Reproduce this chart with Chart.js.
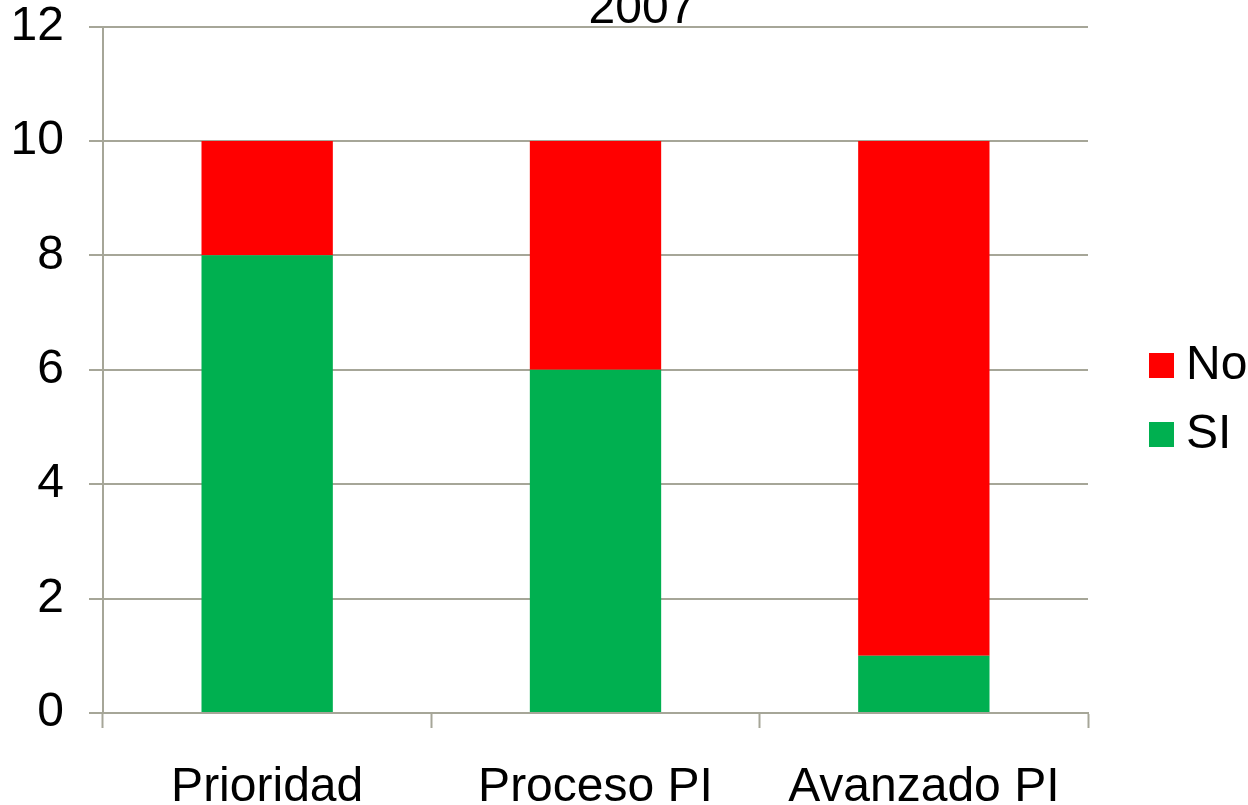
<!DOCTYPE html>
<html>
<head>
<meta charset="utf-8">
<script src="https://cdn.jsdelivr.net/npm/chart.js@4/dist/chart.umd.min.js"></script>
<style>
  body { margin: 0; background: #fff; }
  #wrap { width: 1248px; height: 805px; }
</style>
</head>
<body>
<div id="wrap"><canvas id="myBarChart" width="1248" height="805"></canvas></div>
<script>
// data
const categories = ['Prioridad', 'Proceso PI', 'Avanzado PI'];
const siValues = [8, 6, 1];
const noValues = [2, 4, 9];
const yTicks = [0, 2, 4, 6, 8, 10, 12];
const chartTitle = '2007';

const gridColor = '#A6A698';
const fontFamily = '"Liberation Sans", Arial, sans-serif';

// title drawn over the top edge, cut off like in the original
const titlePlugin = {
  id: 'topTitle',
  afterDraw(chart) {
    const c = chart.ctx;
    c.save();
    c.font = '48px ' + fontFamily;
    c.fillStyle = '#000';
    c.textAlign = 'center';
    c.textBaseline = 'alphabetic';
    c.fillText(chartTitle, 642, 23);
    c.restore();
  }
};

// legend on the right, top series first
const legendPlugin = {
  id: 'sideLegend',
  afterDraw(chart) {
    const c = chart.ctx;
    const sets = chart.data.datasets.slice().reverse();
    c.save();
    c.font = '48px ' + fontFamily;
    c.textBaseline = 'middle';
    c.textAlign = 'left';
    sets.forEach((ds, i) => {
      const cy = 365 + i * 69;
      c.fillStyle = ds.backgroundColor;
      c.fillRect(1149, cy - 12, 25, 25);
      c.fillStyle = '#000';
      c.fillText(ds.label, 1186, cy + 1);
    });
    c.restore();
  }
};

const ctx = document.getElementById('myBarChart').getContext('2d');
const myBarChart = new Chart(ctx, {
  type: 'bar',
  data: {
    labels: categories,
    datasets: [{
      label: 'SI',
      data: siValues,
      backgroundColor: '#00B050',
      barPercentage: 0.4,
      categoryPercentage: 1.0
    }, {
      label: 'No',
      data: noValues,
      backgroundColor: '#FF0000',
      barPercentage: 0.4,
      categoryPercentage: 1.0
    }]
  },
  options: {
    responsive: false,
    animation: false,
    layout: {
      padding: { top: 0, right: 160, left: 0, bottom: 0 }
    },
    plugins: {
      legend: { display: false },
      title: { display: false },
      tooltip: { enabled: false }
    },
    scales: {
      x: {
        stacked: true,
        grid: {
          display: true,
          drawOnChartArea: false,
          drawTicks: true,
          tickLength: 15,
          tickWidth: 2,
          tickColor: gridColor,
          offset: true
        },
        border: { display: true, color: gridColor, width: 2 },
        ticks: {
          color: '#000',
          padding: 31,
          font: { family: fontFamily, size: 48 }
        },
        afterFit(scale) { scale.height = 92; }
      },
      y: {
        stacked: true,
        min: 0,
        max: 12,
        afterBuildTicks(scale) {
          scale.ticks = yTicks.map(v => ({ value: v }));
        },
        grid: {
          color: gridColor,
          lineWidth: 2,
          tickLength: 14,
          drawTicks: true
        },
        border: { display: true, color: gridColor, width: 2 },
        ticks: {
          color: '#000',
          padding: 25,
          font: { family: fontFamily, size: 48, lineHeight: 0.0625 }
        },
        afterFit(scale) { scale.width = 103; }
      }
    }
  },
  plugins: [titlePlugin, legendPlugin]
});
</script>
</body>
</html>
